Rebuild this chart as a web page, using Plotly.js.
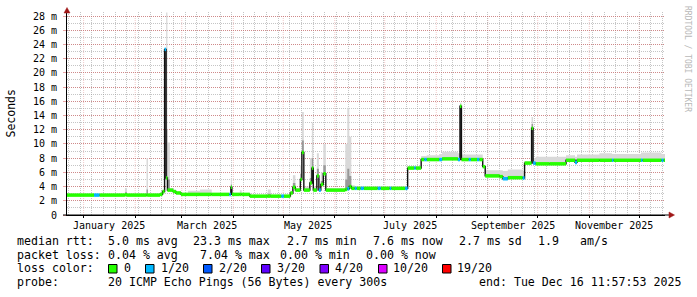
<!DOCTYPE html>
<html>
<head>
<meta charset="utf-8">
<script src="https://cdn.plot.ly/plotly-3.0.1.min.js"></script>
<style>
html,body{margin:0;padding:0;background:#fff;}
#chart{width:697px;height:297px;}
</style>
</head>
<body>
<div id="chart"></div>
<script>
// ---- data ----
const times = [
"2024-12-22 00:00","2025-01-07 06:00","2025-01-10 12:00","2025-01-25 20:00","2025-01-27 02:00",
"2025-02-07 19:00","2025-02-08 16:00","2025-02-15 22:00","2025-02-17 10:00","2025-02-18 16:00",
"2025-02-19 14:00","2025-02-20 09:00","2025-02-21 21:00","2025-02-23 17:00","2025-02-25 12:00",
"2025-02-28 12:00","2025-03-04 17:00","2025-03-11 22:00","2025-03-19 00:00","2025-03-29 14:00",
"2025-03-30 12:00","2025-03-31 03:00","2025-04-04 22:00","2025-04-06 00:00","2025-04-10 22:00",
"2025-04-21 17:00","2025-04-23 12:00","2025-04-29 20:00","2025-05-01 09:00","2025-05-05 07:00",
"2025-05-06 19:00","2025-05-08 07:00","2025-05-11 07:00","2025-05-12 05:00","2025-05-13 09:00",
"2025-05-17 00:00","2025-05-18 05:00","2025-05-19 02:00","2025-05-21 05:00","2025-05-22 10:00",
"2025-05-23 14:00","2025-05-25 02:00","2025-05-26 14:00","2025-06-07 07:00","2025-06-08 12:00",
"2025-06-09 17:00","2025-06-10 22:00","2025-06-13 00:00","2025-06-14 05:00","2025-06-16 14:00",
"2025-06-18 10:00","2025-06-26 19:00","2025-06-28 14:00","2025-07-04 00:00","2025-07-04 22:00",
"2025-07-13 07:00","2025-07-14 19:00","2025-07-18 17:00","2025-07-19 14:00","2025-07-22 22:00",
"2025-07-24 20:00","2025-07-26 06:00","2025-08-02 18:00","2025-08-04 12:00","2025-08-14 00:00",
"2025-08-15 06:00","2025-08-16 03:00","2025-08-20 12:00","2025-08-21 18:00","2025-08-25 12:00",
"2025-08-26 20:00","2025-08-28 22:00","2025-08-30 10:00","2025-09-08 02:00","2025-09-10 00:00",
"2025-09-13 00:00","2025-09-21 22:00","2025-09-23 02:00","2025-09-27 07:00","2025-09-28 05:00",
"2025-09-29 17:00","2025-10-08 02:00","2025-10-18 00:00","2025-10-23 10:00","2025-10-24 14:00",
"2025-11-07 02:00","2025-11-14 14:00","2025-11-15 12:00","2025-12-02 02:00","2025-12-03 00:00",
"2025-12-14 10:00","2025-12-15 14:00","2025-12-16 12:00"];

// median rtt in ms
const median = [
2.8,2.8,2.8,2.85,2.8, 2.8,2.8,2.9,3.3,23.3, 5.2,3.5,3.5,3.3,3.1, 2.9,2.9,2.9,2.9,2.9,
3.9,2.9,2.9,2.9,2.65, 2.65,2.65,2.65,2.65,3.1, 3.9,3.5,5.0,8.8,3.5, 4.5,6.6,3.5,5.5,3.5,
4.3,5.8,3.5,3.6,3.7, 4.0,3.75,3.75,3.75,3.75, 3.75,3.75,3.75,3.75,3.75, 3.75,6.6,6.6,6.6,7.8,
7.8,7.8,7.8,7.9,7.8, 15.3,7.8,7.8,7.8,7.8, 7.8,6.8,5.5,5.4,5.1, 5.25,5.2,7.3,12.2,7.3,
7.2,7.2,7.7,7.4,7.7, 7.7,7.7,7.7,7.7,7.7, 7.7,7.7,7.7];

// lost pings out of 20
const loss = [
0,1,0,0,0, 0,0,0,0,1, 0,0,0,0,0, 0,0,0,0,1,
0,0,0,0,0, 0,0,1,0,0, 0,0,0,0,0, 0,0,0,0,1,
0,0,0,0,1, 0,0,1,0,1, 0,1,0,1,0, 1,0,1,0,0,
1,0,1,0,1, 0,0,1,0,1, 0,0,0,0,1, 0,1,0,0,1,
0,0,0,1,0, 0,1,0,1,0, 1,0,0];

// upper edge of the smoke (slowest pings), ms
const smokeHi = [
3.0,3.0,3.0,3.8,3.0, 8.0,3.0,3.1,3.5,23.5, 28.5,10.2,3.8,3.5,3.3, 3.1,3.4,3.6,3.1,3.1,
5.2,3.1,3.5,3.1,2.8, 3.6,2.8,2.8,2.8,3.4, 5.6,3.8,7.0,14.5,4.0, 8.0,13.0,4.0,8.7,4.0,
6.0,10.0,3.8,10.0,15.1, 11.0,4.2,4.0,4.0,4.0, 4.0,4.0,4.0,4.0,4.0, 4.0,6.9,6.9,6.9,8.3,
8.3,8.4,8.6,8.9,8.7, 15.8,8.5,8.5,8.5,8.5, 8.5,7.0,6.3,6.3,6.2, 6.4,6.2,7.6,13.8,8.0,
8.2,8.2,8.4,8.2,8.5, 8.7,8.6,8.6,8.8,8.8, 8.6,8.6,8.6];

// denser middle of the smoke, ms
const smokeMid = [
2.9,2.9,2.9,3.2,2.9, 3.6,2.9,3.0,3.4,23.3, 12.0,5.0,3.6,3.4,3.2, 3.0,3.1,3.1,3.0,3.0,
4.3,3.0,3.1,3.0,2.7, 3.0,2.7,2.7,2.7,3.2, 4.5,3.6,5.8,10.5,3.7, 5.2,8.0,3.7,6.5,3.7,
4.8,7.0,3.6,5.0,6.5, 5.5,3.9,3.9,3.9,3.9, 3.9,3.9,3.9,3.9,3.9, 3.9,6.7,6.7,6.7,7.9,
7.9,7.9,7.9,8.0,7.9, 15.3,7.9,7.9,7.9,7.9, 7.9,6.9,5.7,5.6,5.3, 5.5,5.4,7.4,12.8,7.4,
7.3,7.3,7.8,7.5,7.8, 7.8,7.8,7.8,7.8,7.8, 7.8,7.8,7.8];

const monthStarts = ["2025-01-01","2025-02-01","2025-03-01","2025-04-01","2025-05-01","2025-06-01",
"2025-07-01","2025-08-01","2025-09-01","2025-10-01","2025-11-01","2025-12-01"];
const labelDates = ["2025-01-16","2025-03-16","2025-05-16","2025-07-16","2025-09-16","2025-11-16"];
const labelText = ["January 2025","March 2025","May 2025","July 2025","September 2025","November 2025"];
const yTickVals = [0,2,4,6,8,10,12,14,16,18,20,22,24,26,28];
const yTickText = ["0","2 m","4 m","6 m","8 m","10 m","12 m","14 m","16 m","18 m","20 m","22 m","24 m","26 m","28 m"];

const lossLevels = [0,1,2,3,4,10,19];
const lossColors = ["#26ff00","#00b8ff","#0059ff","#5e00ff","#7e00ff","#dd00ff","#ff0000"];
const lossLabels = ["0","1/20","2/20","3/20","4/20","10/20","19/20"];

// ---- geometry helpers (page pixels -> paper) ----
const W=697,H=297,L=67,R=665,T=12,B=215;
const px=x=>(x-L)/(R-L);
const py=y=>(B-y)/(B-T);
const mono="DejaVu Sans Mono";

// ---- traces ----
const traces=[];
const base={x:times,y:median,mode:"lines",line:{width:0,shape:"hv"},hoverinfo:"skip",showlegend:false};
traces.push(Object.assign({},base));
traces.push({x:times,y:smokeHi,mode:"lines",line:{width:0,shape:"hv"},fill:"tonexty",fillcolor:"#d9d9d9",hoverinfo:"skip",showlegend:false});
traces.push(Object.assign({},base));
traces.push({x:times,y:smokeMid,mode:"lines",line:{width:0,shape:"hv"},fill:"tonexty",fillcolor:"#999999",hoverinfo:"skip",showlegend:false});
traces.push({x:times,y:median,mode:"lines",line:{width:1.4,color:"#101010",shape:"hv"},hoverinfo:"skip",showlegend:false});

// loss-coloured median strips (horizontal parts only)
lossLevels.forEach((lv,k)=>{
  const xs=[],ys=[];
  for(let i=0;i<times.length-1;i++){
    if(loss[i]===lv){xs.push(times[i],times[i+1],null);ys.push(median[i],median[i],null);}
  }
  if(xs.length) traces.push({x:xs,y:ys,mode:"lines",line:{width:3.5,color:lossColors[k]},connectgaps:false,hoverinfo:"skip",showlegend:false});
});

// ---- annotations ----
const ann=[];
labelDates.forEach((d,i)=>ann.push({x:d,xref:"x",y:0,yref:"paper",yshift:-10,text:labelText[i],showarrow:false,
  xanchor:"center",yanchor:"middle",font:{family:mono,size:10,color:"#000"}}));

ann.push({x:px(10.5),xref:"paper",y:py(113),yref:"paper",text:"Seconds",textangle:-90,showarrow:false,
  xanchor:"center",yanchor:"middle",font:{family:mono,size:11.5,color:"#000"}});

ann.push({x:px(688),xref:"paper",y:py(59),yref:"paper",text:"RRDTOOL / TOBI OETIKER",textangle:90,showarrow:false,
  xanchor:"center",yanchor:"middle",font:{family:mono,size:8,color:"#b8b8b8"}});

const fs=11.6;
function txt(x,y,s){ann.push({x:px(x),xref:"paper",y:py(y),yref:"paper",text:s.replace(/ /g,"\u00a0"),showarrow:false,
  xanchor:"left",yanchor:"middle",borderpad:0,font:{family:mono,size:fs,color:"#000"}});}
const r1=241,r2=254.7,r3=268.3,r4=282;
txt(15.5,r1,"median rtt:");txt(106.8,r1,"5.0 ms avg");txt(192.2,r1,"23.3 ms max");txt(285.5,r1,"2.7 ms min");
txt(371.8,r1,"7.6 ms now");txt(457.8,r1,"2.7 ms sd");txt(537.3,r1,"1.9");txt(579,r1,"am/s");
txt(15.5,r2,"packet loss:");txt(106.8,r2,"0.04 % avg");txt(198.8,r2,"7.04 % max");txt(278.8,r2,"0.00 % min");txt(364.5,r2,"0.00 % now");
txt(15.5,r3,"loss color:");
const boxX=[108.5,145.5,203.5,261.5,320,378.5,442.5];
const labX=[122.5,159.5,217.5,275.5,334,391.8,456.2];
const shapes=[];
lossLabels.forEach((s,i)=>{
  txt(labX[i],r3,s);
  shapes.push({type:"rect",xref:"paper",yref:"paper",x0:px(boxX[i]),x1:px(boxX[i]+8.5),y0:py(264.5),y1:py(273),
    fillcolor:lossColors[i],line:{color:"#000",width:1},layer:"above"});
});
txt(15.5,r4,"probe:");txt(106.8,r4,"20 ICMP Echo Pings (56 Bytes) every 300s");txt(477.8,r4,"end: Tue Dec 16 11:57:53 2025");

// month grid lines (major) drawn below data
monthStarts.forEach(d=>shapes.push({type:"line",xref:"x",yref:"paper",x0:d,x1:d,y0:0,y1:py(16),
  line:{color:"rgba(215,110,110,0.38)",width:1,dash:"1px,1px"},layer:"below"}));

// axis arrows
shapes.push({type:"line",xref:"paper",yref:"paper",x0:px(63),x1:px(669),y0:0,y1:0,line:{color:"#000",width:1}});
shapes.push({type:"path",xref:"paper",yref:"paper",path:`M ${px(669)} ${py(212)} L ${px(674.5)} ${py(215)} L ${px(669)} ${py(218)} Z`,
  fillcolor:"#a01818",line:{color:"#a01818",width:0.5}});
shapes.push({type:"path",xref:"paper",yref:"paper",path:`M ${px(64)} ${py(13)} L ${px(67)} ${py(7.5)} L ${px(70)} ${py(13)} Z`,
  fillcolor:"#a01818",line:{color:"#a01818",width:0.5}});

const layout={
  width:W,height:H,margin:{l:L,r:W-R,t:T,b:H-B,pad:0},
  paper_bgcolor:"#fff",plot_bgcolor:"#fff",showlegend:false,
  xaxis:{type:"date",range:["2024-12-22 00:00","2025-12-16 12:00"],tickmode:"array",tickvals:monthStarts,
    ticktext:monthStarts.map(()=>""),showgrid:false,ticks:"outside",ticklen:2,tickcolor:"#000",
    showline:true,linecolor:"#000",linewidth:1,zeroline:false,
    minor:{tick0:"2024-12-23",dtick:7*86400000,showgrid:true,gridcolor:"rgba(150,150,150,0.55)",griddash:"1px,1px",gridwidth:1,ticks:""},
    fixedrange:true},
  yaxis:{range:[0,(B-T)/((B-16)/28)],tickmode:"array",tickvals:yTickVals,ticktext:yTickText,
    showgrid:true,gridcolor:"rgba(215,90,90,0.55)",griddash:"1px,1px",gridwidth:1,
    minor:{dtick:1,showgrid:true,gridcolor:"rgba(150,150,150,0.55)",griddash:"1px,1px",gridwidth:1,ticks:""},
    ticks:"outside",ticklen:3,tickcolor:"rgba(215,90,90,0.55)",ticklabelstandoff:4,
    showline:true,linecolor:"#000",linewidth:1,zeroline:false,
    tickfont:{family:mono,size:10,color:"#000"},fixedrange:true},
  annotations:ann,shapes:shapes
};
Plotly.newPlot("chart",traces,layout,{staticPlot:true,displayModeBar:false});
</script>
</body>
</html>
